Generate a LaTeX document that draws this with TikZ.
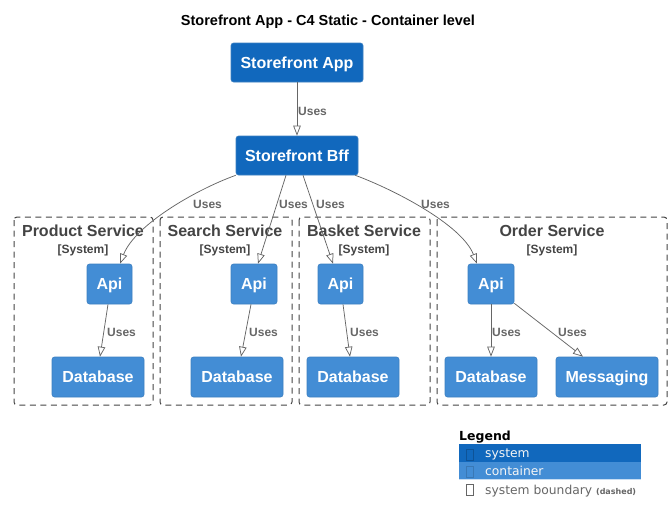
\documentclass[tikz,border=0pt]{standalone}
\usepackage{fontspec}
\setmainfont{Liberation Sans}
\newfontfamily\dejavu{DejaVu Sans}
\usetikzlibrary{arrows.meta}
\definecolor{sysblue}{HTML}{1168BD}
\definecolor{conblue}{HTML}{438DD5}
\definecolor{bordblue}{HTML}{3C7FC0}
\definecolor{relgray}{HTML}{666666}
\definecolor{bndgray}{HTML}{444444}
\tikzset{
  sysbox/.style={rectangle, rounded corners=2.5pt, fill=sysblue, draw=bordblue, line width=0.6pt,
    text=white, font=\fontsize{16}{19}\selectfont\bfseries, minimum height=39pt, inner sep=0pt,
    text height=11.5pt, text depth=0pt},
  conbox/.style={rectangle, rounded corners=2.5pt, fill=conblue, draw=bordblue, line width=0.6pt,
    text=white, font=\fontsize{16}{19}\selectfont\bfseries, minimum height=40pt, inner sep=0pt,
    text height=11.5pt, text depth=0pt},
  rel/.style={draw=relgray, line width=0.75pt, -{Triangle[open,length=10pt,width=7.5pt]}},
  rellabel/.style={anchor=base west, inner sep=0pt, text=relgray, font=\fontsize{12}{14}\selectfont\bfseries},
  boundary/.style={draw=bndgray, line width=1pt, dash pattern=on 6pt off 4.5pt, rounded corners=3pt},
  bndtitle/.style={anchor=base, inner sep=0pt, text=bndgray, font=\fontsize{16}{19}\selectfont\bfseries},
  bndsub/.style={anchor=base, inner sep=0pt, text=bndgray, font=\fontsize{12}{14}\selectfont\bfseries},
  legtext/.style={anchor=base west, inner sep=0pt, font=\dejavu\fontsize{12.3}{14}\selectfont},
  tofu/.style={rectangle, inner sep=0pt, minimum width=7pt, minimum height=11pt, line width=0.7pt},
}
\begin{document}
\begin{tikzpicture}[x=1pt,y=-1pt]
\useasboundingbox (0,0) rectangle (672,523);
% title
\node[anchor=base, inner sep=0pt, font=\fontsize{14.5}{17}\selectfont\bfseries] (title) at (328,25) {Storefront App - C4 Static - Container level};
% boundaries
\draw[boundary] (14,217) rectangle (153,405);
\draw[boundary] (160,217) rectangle (292,405);
\draw[boundary] (299,217) rectangle (430,405);
\draw[boundary] (437,217) rectangle (667,405);
\node[bndtitle] (pst) at (83,236.5) {Product Service};
\node[bndsub] (pss) at (83,253.5) {[System]};
\node[bndtitle] (sst) at (225,236.5) {Search Service};
\node[bndsub] (sss) at (225,253.5) {[System]};
\node[bndtitle] (bst) at (364,236.5) {Basket Service};
\node[bndsub] (bss) at (364,253.5) {[System]};
\node[bndtitle] (ost) at (552,236.5) {Order Service};
\node[bndsub] (oss) at (552,253.5) {[System]};
% nodes
\node[sysbox, minimum width=132pt] (app) at (297,62.5) {Storefront App};
\node[sysbox, minimum width=122pt] (bff) at (297,155.5) {Storefront Bff};
\node[conbox, minimum width=45pt] (papi) at (109.5,284) {Api};
\node[conbox, minimum width=46pt] (sapi) at (254,284) {Api};
\node[conbox, minimum width=45pt] (bapi) at (340.5,284) {Api};
\node[conbox, minimum width=46pt] (oapi) at (491,284) {Api};
\node[conbox, minimum width=92pt] (pdb) at (98,377) {Database};
\node[conbox, minimum width=92pt] (sdb) at (237,377) {Database};
\node[conbox, minimum width=92pt] (bdb) at (353,377) {Database};
\node[conbox, minimum width=92pt] (odb) at (491,377) {Database};
\node[conbox, minimum width=102pt] (msg) at (607,377) {Messaging};
% relations
\draw[rel] (app.south) -- (bff.north);
\draw[rel] (bff.south west) .. controls (195,190) and (135,225) .. ([xshift=10.5pt]papi.north);
\draw[rel] ([xshift=-11pt]bff.south) -- ([xshift=4pt]sapi.north);
\draw[rel] ([xshift=6pt]bff.south) -- ([xshift=-7.5pt]bapi.north);
\draw[rel] ([xshift=-3pt]bff.south east) .. controls (395,190) and (462,225) .. ([xshift=-14pt]oapi.north);
\draw[rel] ([xshift=-1.5pt]papi.south) -- ([xshift=2pt]pdb.north);
\draw[rel] ([xshift=-3pt]sapi.south) -- ([xshift=4pt]sdb.north);
\draw[rel] ([xshift=2.5pt]bapi.south) -- ([xshift=-3pt]bdb.north);
\draw[rel] (oapi.south) -- (odb.north);
\draw[rel] ([yshift=1pt]oapi.south east) -- ([xshift=-24pt]msg.north);
% labels
\node[rellabel] (l1) at (298,115) {Uses};
\node[rellabel] (l2) at (193,208) {Uses};
\node[rellabel] (l3) at (279,208) {Uses};
\node[rellabel] (l4) at (316,208) {Uses};
\node[rellabel] (l5) at (421,208) {Uses};
\node[rellabel] (l6) at (107,336.5) {Uses};
\node[rellabel] (l7) at (249,336.5) {Uses};
\node[rellabel] (l8) at (350,336.5) {Uses};
\node[rellabel] (l9) at (492,336.5) {Uses};
\node[rellabel] (l10) at (558,336.5) {Uses};
% legend
\node[anchor=base west, inner sep=0pt, font=\dejavu\fontsize{12.5}{14}\selectfont\bfseries] (leg) at (459,440.7) {Legend};
\fill[sysblue] (459,444) rectangle (641,461.5);
\fill[conblue] (459,461.5) rectangle (641,479);
\draw[white!70!conblue, line width=0.8pt] (459,479.4) -- (641,479.4);
\node[tofu, draw=sysblue!80!black] (t1) at (469.5,454.5) {};
\node[tofu, draw=conblue!85!black] (t2) at (469.5,472) {};
\node[tofu, draw=relgray] (t3) at (469.5,489.5) {};
\node[legtext, text=white!92!gray] (lt1) at (485,457.7) {system};
\node[legtext, text=white!92!gray] (lt2) at (485,475.5) {container};
\node[legtext, text=relgray] (lt3) at (485,494) {system boundary \raisebox{0pt}{\fontsize{8}{9}\selectfont\bfseries(dashed)}};
\end{tikzpicture}
\end{document}
